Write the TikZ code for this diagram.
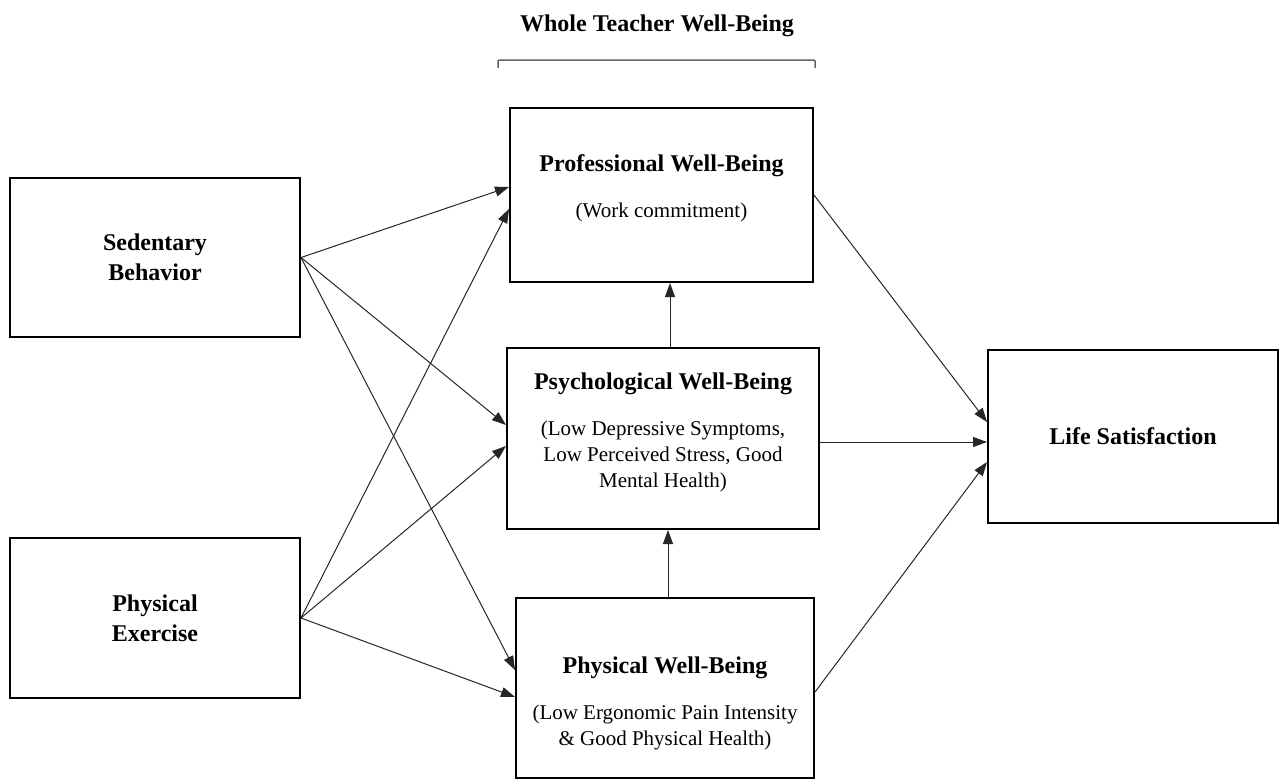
\documentclass[tikz,border=0pt]{standalone}
\usepackage{fontspec}
\setmainfont{Liberation Serif}
\usetikzlibrary{arrows.meta,positioning}

\tikzset{
  box/.style={draw=black, line width=2pt, inner sep=0pt, align=center},
  head/.style={font=\fontsize{24}{30}\selectfont\bfseries, align=center, inner sep=0pt},
  sub/.style={font=\fontsize{21}{26}\selectfont, align=center, inner sep=0pt},
  path/.style={draw=black!85, line width=1pt, -{Triangle[length=14pt,width=10pt]}},
}

\begin{document}
\begin{tikzpicture}[x=1pt,y=-1pt]
    \useasboundingbox (0,0) rectangle (1279,779);

    % header and bracket
    \node[head] (whole) at (657,26) {Whole Teacher Well-Being};
    \draw[draw=black!60, line width=1.5pt, rounded corners=1pt] (498,68) -- (498,60) -- (815,60) -- (815,68);

    % predictors
    \node[box, head, minimum width=290, minimum height=159] (sed) at (155,257.5) {Sedentary\\Behavior};
    \node[box, head, minimum width=290, minimum height=160] (exer) at (155,618) {Physical\\Exercise};

    % well-being boxes
    \node[box, minimum width=303, minimum height=174] (prof) at (661.5,195) {};
    \node[box, minimum width=312, minimum height=181] (psych) at (663,438.5) {};
    \node[box, minimum width=298, minimum height=180] (phys) at (665,688) {};

    \node[head] (prof title) at (661.5,166) {Professional Well-Being};
    \node[sub] (prof sub) at (661.5,212) {(Work commitment)};
    \node[head] (psych title) at (663,384) {Psychological Well-Being};
    \node[sub] (psych sub) at (663,456) {(Low Depressive Symptoms,\\Low Perceived Stress, Good\\Mental Health)};
    \node[head] (phys title) at (665,668) {Physical Well-Being};
    \node[sub] (phys sub) at (665,727) {(Low Ergonomic Pain Intensity\\\& Good Physical Health)};

    % outcome
    \node[box, head, minimum width=290, minimum height=173] (life) at (1133,436.5) {Life Satisfaction};

    % paths from predictors
    \draw[path] (sed.east) -- ([yshift=8pt]prof.west);
    \draw[path] (sed.east) -- ([yshift=13.5pt]psych.west);
    \draw[path] (sed.east) -- ([yshift=18pt]phys.west);
    \draw[path] (exer.east) -- ([yshift=-14pt]prof.west);
    \draw[path] (exer.east) -- ([yshift=-7.5pt]psych.west);
    \draw[path] (exer.east) -- ([yshift=-9pt]phys.west);

    % paths between well-being domains
    \draw[path] ([xshift=7pt]psych.north) -- ([xshift=7pt]psych.north |- prof.south);
    \draw[path] ([xshift=3pt]phys.north) -- ([xshift=3pt]phys.north |- psych.south);

    % paths to life satisfaction
    \draw[path] (prof.east) -- ([yshift=14.5pt]life.west);
    \draw[path] ([yshift=-3.5pt]psych.east) -- ([yshift=-5.5pt]life.west);
    \draw[path] ([yshift=-4pt]phys.east) -- ([yshift=-25.5pt]life.west);
\end{tikzpicture}
\end{document}
